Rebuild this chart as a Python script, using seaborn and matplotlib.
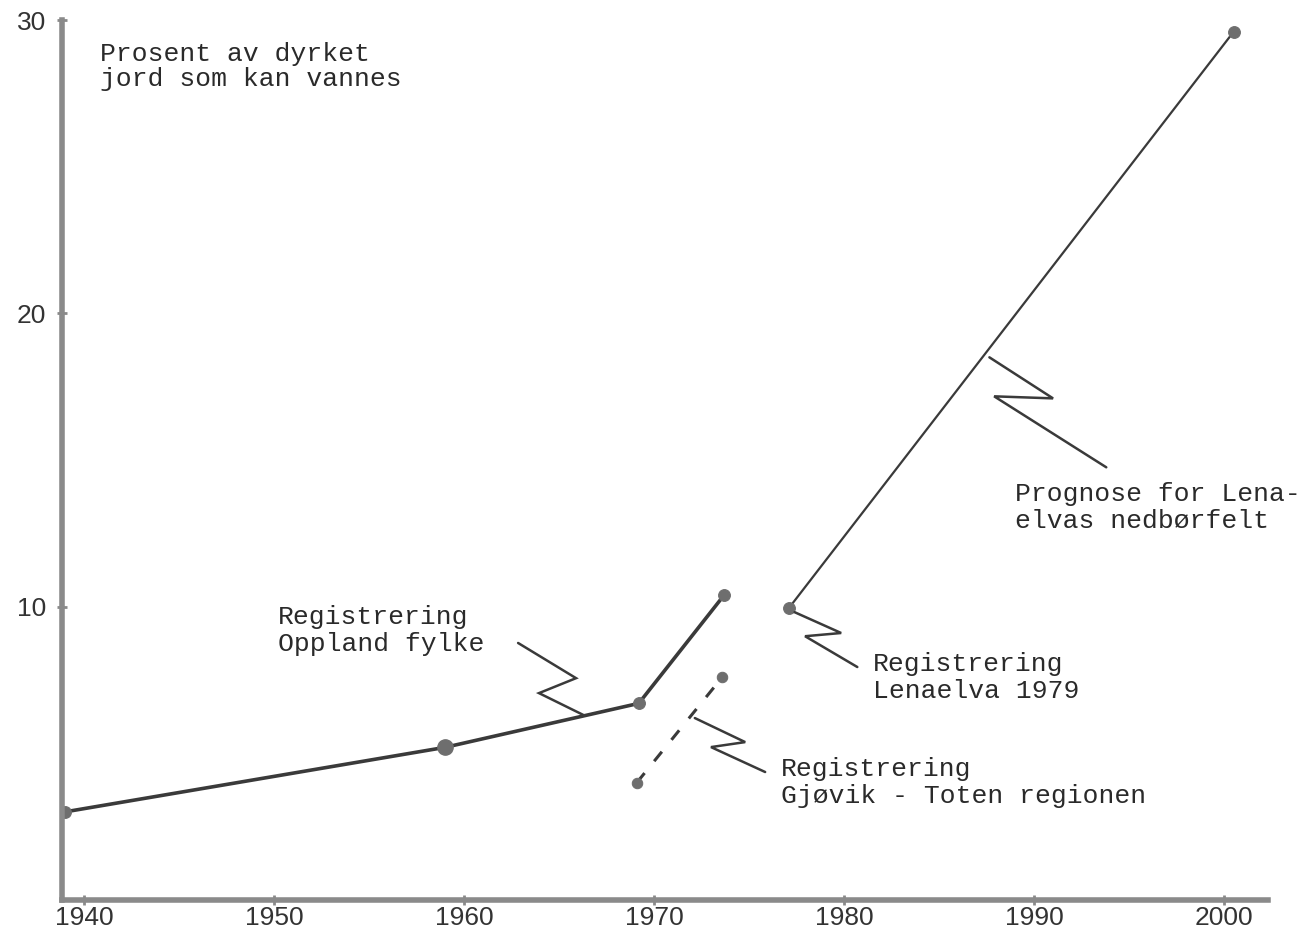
import matplotlib
matplotlib.use("Agg")
import matplotlib.pyplot as plt
import seaborn as sns
import pandas as pd

sns.set_theme(style="white")
plt.rcParams['font.family'] = ['Liberation Mono', 'DejaVu Sans']

# data
oppland_year = [1939.0, 1959.0, 1969.2, 1973.7]
oppland_pct = [3.0, 5.2, 6.7, 10.4]

gjovik_year = [1969.1, 1973.6]
gjovik_pct = [4.0, 7.6]

lena_year = [1977.1, 2000.5]
lena_pct = [9.95, 29.6]

x_ticks = [1940, 1950, 1960, 1970, 1980, 1990, 2000]
y_ticks = [10, 20, 30]

# text labels and their zigzag leaders (data coords)
labels = [
    ("Registrering\nOppland fylke", 1950.2, 10.05,
     [(1962.85, 8.76), (1965.9, 7.56), (1963.95, 7.05), (1966.3, 6.30)]),
    ("Registrering\nLenaelva 1979", 1981.5, 8.45,
     [(1977.4, 9.81), (1979.85, 9.10), (1977.95, 8.99), (1980.7, 7.94)]),
    ("Registrering\nGj\u00f8vik - Toten regionen", 1976.7, 4.87,
     [(1972.15, 6.20), (1974.8, 5.38), (1973.0, 5.21), (1975.85, 4.36)]),
    ("Prognose for Lena-\nelvas nedb\u00f8rfelt", 1989.0, 14.24,
     [(1987.65, 18.50), (1991.0, 17.10), (1987.9, 17.17), (1993.8, 14.75)]),
]

line_col = "#3a3a3a"
dot_col = "#6e6e6e"
axis_col = "#8a8a8a"

fig = plt.figure(figsize=(13.05, 9.33), dpi=100)
ax = fig.add_axes([0.0475, 0.0355, 0.924, 0.943])

df1 = pd.DataFrame({"year": oppland_year, "pct": oppland_pct})
sns.lineplot(data=df1, x="year", y="pct", ax=ax, color=line_col, lw=2.6,
             marker="o", markersize=8.5, markerfacecolor=dot_col,
             markeredgecolor=dot_col, estimator=None)
# the 1959 dot is drawn a bit heavier
ax.plot(oppland_year[1], oppland_pct[1], "o", ms=11, color=dot_col)

df2 = pd.DataFrame({"year": gjovik_year, "pct": gjovik_pct})
sns.lineplot(data=df2, x="year", y="pct", ax=ax, color=line_col, lw=2.2,
             marker="o", markersize=7.5, markerfacecolor=dot_col,
             markeredgecolor=dot_col, estimator=None, dashes=False)
ax.lines[-1].set_dashes((4, 5))

df3 = pd.DataFrame({"year": lena_year, "pct": lena_pct})
sns.lineplot(data=df3, x="year", y="pct", ax=ax, color=line_col, lw=1.6,
             marker="o", markersize=8.5, markerfacecolor=dot_col,
             markeredgecolor=dot_col, estimator=None)

for text, tx, ty, zig in labels:
    ax.text(tx, ty, text, fontsize=19, va="top", ha="left",
            color="#2a2a2a", linespacing=1.15)
    zx = [p[0] for p in zig]
    zy = [p[1] for p in zig]
    ax.plot(zx, zy, color=line_col, lw=1.8, solid_joinstyle="miter")

ax.text(1940.85, 29.25, "Prosent av dyrket\njord som kan vannes",
        fontsize=19, va="top", ha="left", color="#2a2a2a", linespacing=1.05)

ax.set_xlim(1938.85, 2002.3)
ax.set_ylim(0, 30)
ax.set_xticks(x_ticks)
ax.set_yticks(y_ticks)
ax.set_xlabel("")
ax.set_ylabel("")
for lab in ax.get_xticklabels() + ax.get_yticklabels():
    lab.set_fontfamily("Liberation Sans")
    lab.set_fontsize(19)
    lab.set_color("#333333")
ax.tick_params(axis="both", direction="inout", length=7, width=2,
               color=axis_col, left=True, bottom=True)
ax.tick_params(axis="x", pad=1)
ax.tick_params(axis="y", pad=8)

for side in ["top", "right"]:
    ax.spines[side].set_visible(False)
for side in ["left", "bottom"]:
    ax.spines[side].set_color(axis_col)
    ax.spines[side].set_linewidth(4)

fig.savefig("out.png", dpi=100, facecolor="white")
